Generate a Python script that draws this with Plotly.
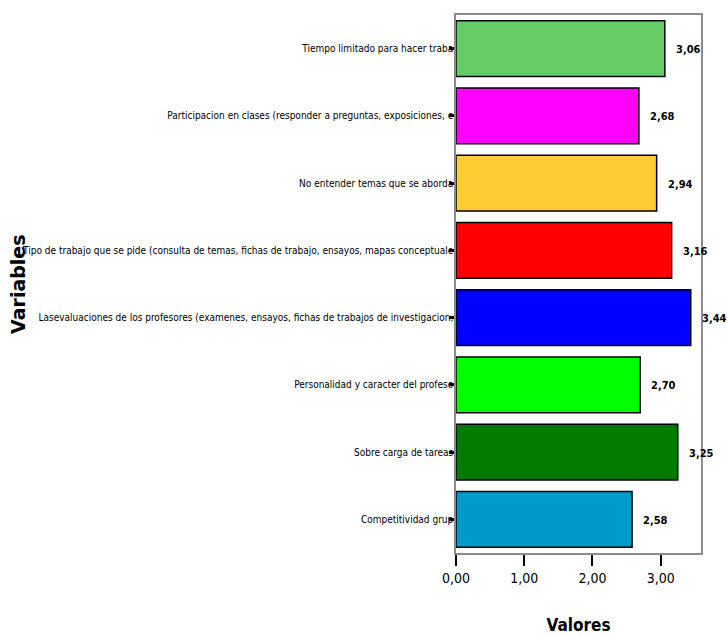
import plotly.graph_objects as go

# Categories listed top to bottom, as shown on the chart
categorias = [
    "Tiempo limitado para hacer traba",
    "Participacion en clases (responder a preguntas, exposiciones, e",
    "No entender temas que se aborda",
    "Tipo de trabajo que se pide (consulta de temas, fichas de trabajo, ensayos, mapas conceptuale",
    "Lasevaluaciones de los profesores (examenes, ensayos, fichas de trabajos de investigacion,",
    "Personalidad y caracter del profeso",
    "Sobre carga de tareas",
    "Competitividad grup",
]
valores = [3.06, 2.68, 2.94, 3.16, 3.44, 2.70, 3.25, 2.58]
colores = ["#66CC66", "#FF00FF", "#FFCC33", "#FF0000",
           "#0000FF", "#00FF00", "#007A00", "#0099CC"]
x_ticks = [0, 1, 2, 3]
x_tick_labels = ["0,00", "1,00", "2,00", "3,00"]

NARROW = "DejaVu Sans Condensed"

fig = go.Figure()
fig.add_trace(go.Bar(
    x=valores,
    y=categorias,
    orientation="h",
    marker=dict(color=colores, line=dict(color="black", width=1.5)),
    showlegend=False,
    hoverinfo="x+y",
))

# Value labels to the right of each bar
for cat, v in zip(categorias, valores):
    fig.add_annotation(
        x=v, y=cat, xref="x", yref="y",
        text=f"{v:.2f}".replace(".", ","),
        showarrow=False, xanchor="left", yanchor="middle",
        xshift=9, yshift=-1,
        font=dict(family=NARROW, size=11, color="black", weight="bold"),
    )

# Rotated y-axis title
fig.add_annotation(
    x=-1.788, y=0.5, xref="paper", yref="paper",
    text="Variables", textangle=-90, showarrow=False,
    xanchor="center", yanchor="middle",
    font=dict(family="DejaVu Sans", size=19, color="black", weight="bold"),
)

fig.update_layout(
    width=727, height=635,
    margin=dict(l=456, r=26, t=15, b=82),
    paper_bgcolor="white", plot_bgcolor="white",
    bargap=0.17,
    xaxis=dict(
        range=[0, 3.59],
        tickvals=x_ticks, ticktext=x_tick_labels,
        ticks="outside", ticklen=11, tickwidth=2, tickcolor="black",
        showgrid=False, zeroline=False,
        showline=True, linecolor="#8c8c8c", linewidth=1.5, mirror=True,
        tickfont=dict(family=NARROW, size=14, color="black"),
        title=dict(text="Valores", standoff=36,
                   font=dict(family=NARROW, size=17, color="black", weight="bold")),
        automargin=False,
    ),
    yaxis=dict(
        categoryorder="array", categoryarray=categorias,
        range=[7.5, -0.5],
        ticks="outside", ticklen=5, tickwidth=3, tickcolor="black",
        ticklabelstandoff=-6,
        showgrid=False, zeroline=False,
        showline=True, linecolor="#8c8c8c", linewidth=1.5, mirror=True,
        tickfont=dict(family=NARROW, size=10, color="black"),
        automargin=False,
    ),
)

fig.write_html("out.html")
